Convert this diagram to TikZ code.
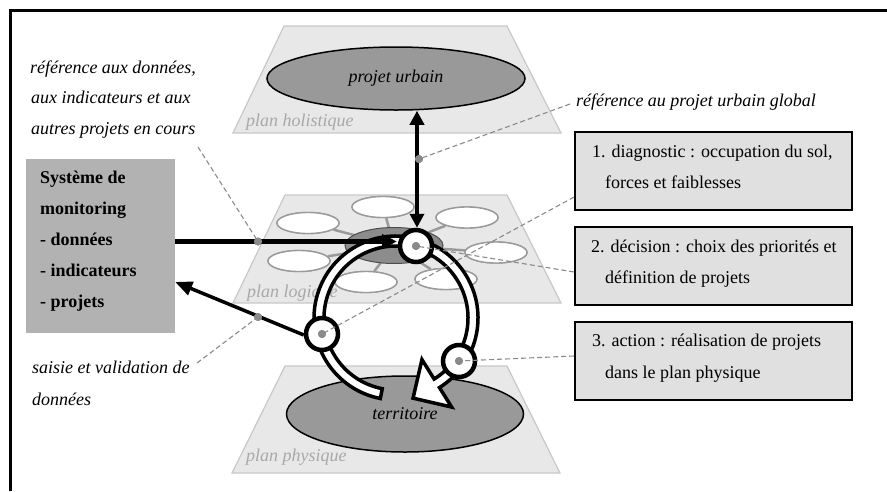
\documentclass[tikz,border=0pt]{standalone}
\usepackage{fontspec}
\setmainfont{Liberation Serif}
\usetikzlibrary{arrows.meta,shapes.geometric,calc}

\definecolor{planfill}{HTML}{E8E8E8}
\definecolor{planedge}{HTML}{C8C8C8}
\definecolor{planlabel}{HTML}{A8A8A8}
\definecolor{massfill}{HTML}{999999}
\definecolor{corefill}{HTML}{8C8C8C}
\definecolor{monfill}{HTML}{B2B2B2}
\definecolor{stepfill}{HTML}{E0E0E0}
\definecolor{leadgray}{HTML}{8A8A8A}
\definecolor{linkgray}{HTML}{9A9A9A}

\newcommand{\txtsize}{\fontsize{18}{22}\selectfont}

\begin{document}
\begin{tikzpicture}[x=1pt,y=-1pt,
  plane/.style={fill=planfill, draw=planedge, line width=1.2pt},
  planelabel/.style={anchor=base west, inner sep=0, text=planlabel, font=\txtsize\itshape},
  mass/.style={ellipse, fill=massfill, draw=black, line width=1.5pt, inner sep=0, font=\txtsize\itshape},
  sub/.style={ellipse, fill=white, draw=linkgray, line width=1.4pt, minimum width=62pt, minimum height=21pt, inner sep=0},
  link/.style={draw=linkgray, line width=2.5pt},
  flow/.style={line width=4.5pt, -{Triangle[length=15pt,width=14pt]}},
  twoway/.style={line width=4.5pt, {Triangle[length=14pt,width=14pt]}-{Triangle[length=14pt,width=14pt]}},
  backflow/.style={line width=3.5pt, -{Triangle[length=17pt,width=14pt]}},
  band/.style={fill=white, draw=black, line width=3.5pt, line join=miter},
  stage/.style={circle, fill=white, draw=black, line width=4.5pt, minimum size=32pt, inner sep=0},
  dot/.style={circle, fill=leadgray, minimum size=8pt, inner sep=0},
  leader/.style={draw=leadgray, dash pattern=on 5pt off 3pt, line width=1.1pt},
  note/.style={anchor=base west, inner sep=0, font=\txtsize\itshape},
  stepbox/.style={fill=stepfill, draw=black, line width=1.7pt, minimum width=277pt, minimum height=78pt, inner sep=0},
  boxtext/.style={anchor=base west, inner sep=0, font=\txtsize},
  montext/.style={anchor=base west, inner sep=0, font=\txtsize\bfseries}]

\useasboundingbox (0,0) rectangle (887,491);

% outer frame
\draw[line width=3pt] (10,491) -- (10,10) -- (887,10);

% the three planes
\path[plane] (284,26) -- (507,26) -- (561,133) -- (233,133) -- cycle;
\path[plane] (285,195) -- (507,195) -- (561,303) -- (233,303) -- cycle;
\path[plane] (285,366) -- (507,366) -- (560,473) -- (232,473) -- cycle;
\node[planelabel] (lh) at (246,126) {plan holistique};
\node[planelabel] (ll) at (247,297) {plan logique};
\node[planelabel] (lp) at (246,461) {plan physique};

% holistic and physical masses
\node[mass, minimum width=258pt, minimum height=63pt] (pu) at (396,78.5) {projet urbain};
\node[mass, minimum width=237pt, minimum height=76pt] (ter) at (405,414) {territoire};

% logical plane: core and its satellite projects
\coordinate (corepos) at (394,245.5);
\node[sub] (e1) at (308,223) {};
\node[sub] (e2) at (383,207) {};
\node[sub] (e3) at (467,217.5) {};
\node[sub] (e4) at (496,252.5) {};
\node[sub] (e5) at (446,279) {};
\node[sub] (e6) at (366,282) {};
\node[sub] (e7) at (299,261) {};
\foreach \e in {e1,e2,e3,e4,e5,e6,e7}
  \draw[link] (corepos) -- (\e);
\foreach \e in {e1,e2,e3,e4,e5,e6,e7}
  \node[sub] at (\e) {};
\node[ellipse, fill=corefill, draw=black!70, line width=1pt, minimum width=98pt, minimum height=36pt, inner sep=0] (core) at (corepos) {};

% monitoring system
\node[fill=monfill, minimum width=149pt, minimum height=174pt, inner sep=0] (mon) at (100.5,246) {};
\node[montext] (m1) at (40,183) {Système de};
\node[montext] (m2) at (40,214) {monitoring};
\node[montext] (m3) at (40,245) {- données};
\node[montext] (m4) at (40,276) {- indicateurs};
\node[montext] (m5) at (40,307) {- projets};

% the cycle band with its arrow head
\coordinate (rc) at (396,318);
\path[band] ($(rc)+(101:82)$) arc[start angle=101, end angle=418, radius=82]
  -- ($(rc)+(58:105)$) -- ($(rc)+(58:77)+(148:28)$) -- ($(rc)+(58:49)$)
  -- ($(rc)+(58:72)$) arc[start angle=418, end angle=101, radius=72] -- cycle;

% stages on the cycle
\node[stage] (s1) at (416,246) {};
\node[stage] (s2) at (322,334) {};
\node[stage] (s3) at (459,361) {};

% main flows
\coordinate (hin) at (397,241.5);
\draw[flow] ([yshift=4.5pt]mon.east) -- (hin);
\draw[twoway] ([xshift=1pt]s1.north) -- ([xshift=1pt]s1.north |- pu.south);
\draw[backflow] ([yshift=-1pt]s2.west) -- ([yshift=-36pt]mon.east);

% leaders
\node[dot] (dref) at (258,241.5) {};
\node[dot] (dglob) at (419,159) {};
\node[dot] (dsai) at (258,317) {};
\node[dot] (d1) at (s2) {};
\node[dot] (d2) at (s1) {};
\node[dot] (d3) at (s3) {};

\node[stepbox] (b1) at (713.5,171) {};
\node[stepbox] (b2) at (713.5,266) {};
\node[stepbox] (b3) at (713.5,361) {};

\coordinate (lref) at (198,147);
\coordinate (lglob) at (570,104);
\coordinate (lsai) at (197,363);
\draw[leader] (lref) -- (dref.center);
\draw[leader] (lglob) -- (dglob.center);
\draw[leader] (lsai) -- (dsai.center);
\draw[leader] ([yshift=-26pt]b1.west) -- (d1.center);
\draw[leader] ([yshift=-6pt]b2.west) -- (d2.center);
\draw[leader] ([yshift=5pt]b3.west) -- (d3.center);
\foreach \d in {dref,dglob,dsai,d1,d2,d3}
  \node[dot] at (\d) {};

% step texts
\node[boxtext] (t11) at (592,157.3) {1. diagnostic : occupation du sol,};
\node[boxtext] (t12) at (605,188) {forces et faiblesses};
\node[boxtext] (t21) at (591,252.7) {2. décision : choix des priorités et};
\node[boxtext] (t22) at (605,283) {définition de projets};
\node[boxtext] (t31) at (592,346.7) {3. action : réalisation de projets};
\node[boxtext] (t32) at (605,378) {dans le plan physique};

% annotations
\node[note] (n1) at (30,73) {référence aux données,};
\node[note] (n2) at (31,103.5) {aux indicateurs et aux};
\node[note] (n3) at (31,134) {autres projets en cours};
\node[note] (n4) at (576,106) {référence au projet urbain global};
\node[note] (n5) at (32,373) {saisie et validation de};
\node[note] (n6) at (32,405) {données};
\end{tikzpicture}
\end{document}
